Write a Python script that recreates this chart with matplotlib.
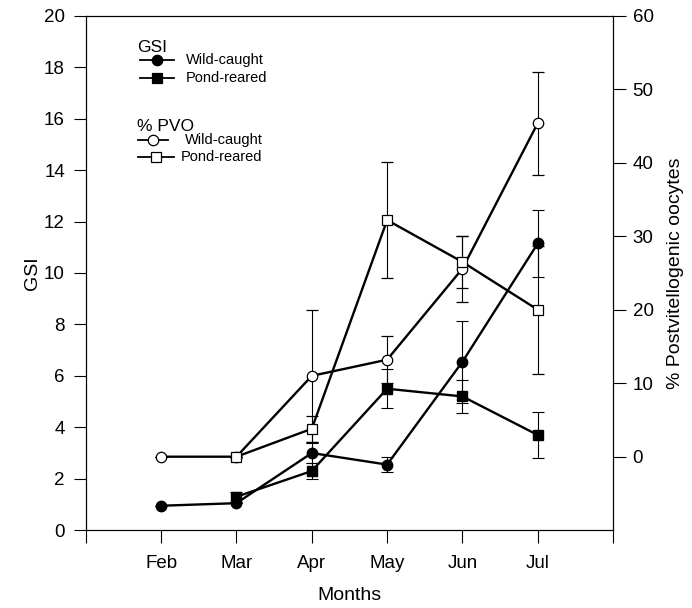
import matplotlib
matplotlib.use("Agg")
import matplotlib.pyplot as plt
from matplotlib.lines import Line2D

plt.rcParams['font.family'] = ['Liberation Sans', 'DejaVu Sans']

months = ['Feb', 'Mar', 'Apr', 'May', 'Jun', 'Jul']
xpos = [1, 2, 3, 4, 5, 6]

# GSI (left axis)
gsi_wild = [0.95, 1.05, 3.0, 2.55, 6.55, 11.15]
gsi_wild_err = [0.0, 0.0, 0.4, 0.3, 1.6, 1.3]
gsi_pond_x = [2, 3, 4, 5, 6]
gsi_pond = [1.3, 2.3, 5.5, 5.2, 3.7]
gsi_pond_err = [0.2, 0.3, 0.75, 0.65, 0.9]

# % PVO (right axis)
pvo_wild = [0.0, 0.0, 11.0, 13.2, 25.6, 45.4]
pvo_wild_err = [0.0, 0.0, 9.0, 3.2, 4.5, 7.0]
pvo_pond_x = [2, 3, 4, 5, 6]
pvo_pond = [0.0, 3.8, 32.2, 26.5, 20.0]
pvo_pond_err = [0.0, 1.8, 7.9, 3.5, 8.7]

fig = plt.figure(figsize=(6.92, 6.08), dpi=100)
ax = fig.add_axes([0.124, 0.128, 0.762, 0.846])
ax2 = ax.twinx()

lw = 1.7
ms = 7.5
ekw = dict(ecolor='black', elinewidth=0.8, capsize=4.5, capthick=0.8)

ax.errorbar(xpos, gsi_wild, yerr=gsi_wild_err, color='black', lw=lw,
            marker='o', ms=ms, mfc='black', mec='black', zorder=3, **ekw)
ax.errorbar(gsi_pond_x, gsi_pond, yerr=gsi_pond_err, color='black', lw=lw,
            marker='s', ms=ms - 0.5, mfc='black', mec='black', zorder=3, **ekw)

ax2.errorbar(xpos, pvo_wild, yerr=pvo_wild_err, color='black', lw=lw,
             marker='o', ms=ms, mfc='white', mec='black', mew=0.9, zorder=3, **ekw)
ax2.errorbar(pvo_pond_x, pvo_pond, yerr=pvo_pond_err, color='black', lw=lw,
             marker='s', ms=ms - 0.5, mfc='white', mec='black', mew=0.9, zorder=3, **ekw)

ax.set_xlim(0, 7)
ax.set_ylim(0, 20)
ax2.set_ylim(-10, 60)

ax.set_xticks(range(0, 8))
ax.set_xticklabels([''] + months + [''])
ax.set_yticks(range(0, 21, 2))
ax2.set_yticks(range(0, 61, 10))

fs = 13.5
ax.tick_params(axis='y', direction='out', length=9, width=0.8, labelsize=fs, pad=6)
ax.tick_params(axis='x', direction='out', length=9, width=0.8, labelsize=fs, pad=9)
ax2.tick_params(axis='y', direction='out', length=9, width=0.8, labelsize=fs, pad=5)
for a in (ax, ax2):
    for s in a.spines.values():
        s.set_linewidth(0.8)

ax.set_xlabel('Months', fontsize=14, labelpad=11)
ax.set_ylabel('GSI', fontsize=14, labelpad=2)
ax2.set_ylabel('% Postvitellogenic oocytes', fontsize=14, labelpad=10)

# Custom legend
tf = fig.transFigure
def px(x, y):
    return (x / 692.0, 1 - y / 608.0)

lfs = 10.5
fig.text(*px(137, 47), 'GSI', fontsize=12.5, va='center', ha='left')
fig.text(*px(137, 127), '% PVO', fontsize=12.5, va='center', ha='left')
items = [
    (60, 'o', 'black', 'Wild-caught', 140, 174, 186),
    (78, 's', 'black', 'Pond-reared', 140, 174, 186),
    (140, 'o', 'white', 'Wild-caught', 138, 168, 185),
    (157, 's', 'white', 'Pond-reared', 138, 174, 181),
]
for y, m, fc, label, x0, x1, xt in items:
    (fx0, fy), (fx1, _) = px(x0, y), px(x1, y)
    fig.add_artist(Line2D([fx0, fx1], [fy, fy], transform=tf, color='black', lw=1.3))
    fig.add_artist(Line2D([(fx0 + fx1) / 2], [fy], transform=tf, color='black',
                          marker=m, ms=7.5 if m == 'o' else 6.5, mfc=fc,
                          mec='black', mew=0.9, lw=0))
    fig.text(*px(xt, y), label, fontsize=lfs, va='center', ha='left')

fig.savefig('out.png', dpi=100)
